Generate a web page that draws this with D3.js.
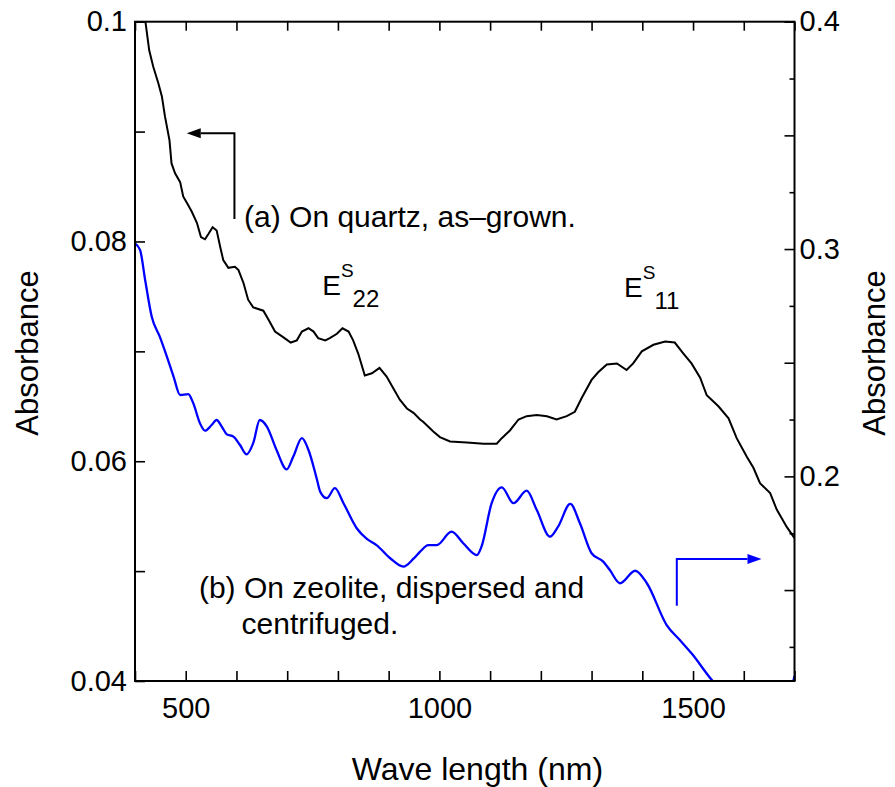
<!DOCTYPE html>
<html>
<head>
<meta charset="utf-8">
<script src="https://cdn.jsdelivr.net/npm/d3@7"></script>
<style>
  body { margin: 0; background: #fff; }
  svg text { font-family: "Liberation Sans", Arial, Helvetica, sans-serif; fill: #000; }
</style>
</head>
<body>
<div id="chart"></div>
<script>
// (a) on quartz, as-grown -- left axis
const wavelengthA = [410, 420, 428, 436, 446, 453, 459, 468, 472, 479, 489, 495, 505, 512, 522, 530, 538, 545, 553, 561,
    568, 574, 584, 597, 604, 614, 623, 633, 653, 663, 676, 692, 707, 719, 729, 742, 752, 761, 775, 784,
    798, 809, 821, 830, 840, 853, 867, 882, 896, 906, 922, 936, 949, 962, 968, 988, 1001, 1021, 1054, 1087,
    1113, 1123, 1139, 1156, 1172, 1192, 1212, 1231, 1251, 1267, 1281, 1300, 1313, 1330, 1350, 1369, 1382, 1399, 1422, 1445,
    1464, 1481, 1497, 1514, 1527, 1550, 1570, 1586, 1606, 1619, 1632, 1652, 1665, 1685, 1700];
const absorbanceA = [0.1040, 0.1002, 0.0974, 0.0959, 0.0944, 0.0932, 0.0914, 0.0892, 0.0871, 0.0862, 0.0854, 0.0841, 0.0833, 0.0827, 0.0817, 0.0804, 0.0802, 0.0807, 0.0813, 0.0810,
    0.0795, 0.0783, 0.0776, 0.0777, 0.0774, 0.0762, 0.0747, 0.0740, 0.0737, 0.0729, 0.0718, 0.0713, 0.0708, 0.0710, 0.0718, 0.0721, 0.0718, 0.0712, 0.0710, 0.0712,
    0.0716, 0.0721, 0.0718, 0.0710, 0.0698, 0.0678, 0.0680, 0.0685, 0.0677, 0.0669, 0.0656, 0.0648, 0.0644, 0.0638, 0.0636, 0.0627, 0.0622, 0.0618, 0.0617, 0.0616,
    0.0616, 0.0621, 0.0628, 0.0638, 0.0641, 0.0642, 0.0641, 0.0638, 0.0641, 0.0645, 0.0658, 0.0674, 0.0681, 0.0688, 0.0689, 0.0683, 0.0689, 0.0700, 0.0706, 0.0709,
    0.0708, 0.0698, 0.0689, 0.0676, 0.0660, 0.0650, 0.0639, 0.0621, 0.0604, 0.0594, 0.0580, 0.0571, 0.0556, 0.0540, 0.0530];

// (b) on zeolite, dispersed and centrifuged -- right axis
const wavelengthB = [400, 410, 420, 433, 449, 463, 476, 489, 505, 515, 528, 538, 551, 561, 571, 581, 594, 607, 620, 633,
    646, 660, 679, 699, 712, 729, 742, 758, 765, 778, 794, 811, 837, 857, 876, 903, 929, 949, 962, 978,
    995, 1024, 1047, 1074, 1083, 1103, 1123, 1146, 1172, 1192, 1218, 1234, 1258, 1277, 1300, 1323, 1336, 1356, 1386, 1409,
    1448, 1474, 1497, 1540, 1600, 1650, 1685, 1700];
const absorbanceB = [0.3025, 0.2996, 0.2864, 0.2702, 0.2614, 0.2526, 0.2439, 0.2358, 0.2362, 0.2321, 0.2234, 0.2201, 0.2226, 0.2248, 0.2219, 0.2185, 0.2175, 0.2138, 0.2097, 0.2146,
    0.2248, 0.2219, 0.2116, 0.2031, 0.2087, 0.2168, 0.2116, 0.1992, 0.1933, 0.1904, 0.1948, 0.1882, 0.1772, 0.1725, 0.1698, 0.1640, 0.1603, 0.1638, 0.1669, 0.1698,
    0.1698, 0.1757, 0.1706, 0.1654, 0.1691, 0.1882, 0.1952, 0.1882, 0.1937, 0.1852, 0.1735, 0.1779, 0.1879, 0.1794, 0.1662, 0.1625, 0.1588, 0.1530, 0.1585, 0.1530,
    0.1346, 0.1280, 0.1222, 0.1097, 0.0990, 0.0960, 0.1010, 0.1122];

// ticks and labels
const xTicks = [400, 500, 600, 700, 800, 900, 1000, 1100, 1200, 1300, 1400, 1500, 1600, 1700];
const xLabels = [500, 1000, 1500];
const leftTicks = [0.04, 0.05, 0.06, 0.07, 0.08, 0.09, 0.1];
const leftLabels = [0.04, 0.06, 0.08, 0.1];
const rightMajor = [0.15, 0.2, 0.25, 0.3, 0.35, 0.4];
const rightMinor = [0.125, 0.175, 0.225, 0.275, 0.325, 0.375];
const rightLabels = [0.2, 0.3, 0.4];

const width = 895, height = 787;
const margin = {top: 21.7, right: 100.5, bottom: 106, left: 135};
const innerW = width - margin.left - margin.right;
const innerH = height - margin.top - margin.bottom;

let svg = d3.select("#chart").append("svg")
    .attr("width", width)
    .attr("height", height);

let g = svg.append("g").attr("transform", `translate(${margin.left},${margin.top})`);

let x = d3.scaleLinear().domain([400, 1700]).range([0, innerW]);
let yL = d3.scaleLinear().domain([0.04, 0.1]).range([innerH, 0]);
let yR = d3.scaleLinear().domain([0.11, 0.4]).range([innerH, 0]);

g.append("clipPath").attr("id", "plotClip")
    .append("rect").attr("width", innerW).attr("height", innerH);

// curves
let lineA = d3.line().x(d => x(d[0])).y(d => yL(d[1]));
let lineB = d3.line().x(d => x(d[0])).y(d => yR(d[1])).curve(d3.curveMonotoneX);

g.append("path")
    .datum(d3.zip(wavelengthA, absorbanceA))
    .attr("clip-path", "url(#plotClip)")
    .attr("fill", "none")
    .attr("stroke", "#000")
    .attr("stroke-width", 2)
    .attr("d", lineA);

g.append("path")
    .datum(d3.zip(wavelengthB, absorbanceB))
    .attr("clip-path", "url(#plotClip)")
    .attr("fill", "none")
    .attr("stroke", "#0000ff")
    .attr("stroke-width", 2.3)
    .attr("d", lineB);

// axes (ticks point inward)
let fmt = d => String(d);

let bottomAxis = g.append("g")
    .attr("transform", `translate(0,${innerH})`)
    .call(d3.axisBottom(x).tickValues(xTicks).tickSize(-10).tickSizeOuter(0).tickPadding(16)
        .tickFormat(d => xLabels.includes(d) ? fmt(d) : ""));

let topAxis = g.append("g")
    .call(d3.axisTop(x).tickValues(xTicks).tickSize(-9).tickSizeOuter(0).tickFormat(""));

let leftAxis = g.append("g")
    .call(d3.axisLeft(yL).tickValues(leftTicks).tickSize(-10).tickSizeOuter(0).tickPadding(8)
        .tickFormat(d => leftLabels.includes(d) ? fmt(d) : ""));

let rightMinorAxis = g.append("g")
    .attr("transform", `translate(${innerW},0)`)
    .call(d3.axisRight(yR).tickValues(rightMinor).tickSize(-5).tickSizeOuter(0).tickFormat(""));

let rightAxis = g.append("g")
    .attr("transform", `translate(${innerW},0)`)
    .call(d3.axisRight(yR).tickValues(rightMajor).tickSize(-10).tickSizeOuter(0).tickPadding(5)
        .tickFormat(d => rightLabels.includes(d) ? fmt(d) : ""));

[bottomAxis, topAxis, leftAxis, rightMinorAxis, rightAxis].forEach(a => {
    a.select(".domain").remove();
    a.selectAll(".tick line").attr("stroke", "#000").attr("stroke-width", 1.6);
    a.selectAll(".tick text").attr("font-size", 29).attr("font-family", null);
});

// frame
g.append("rect")
    .attr("width", innerW).attr("height", innerH)
    .attr("fill", "none").attr("stroke", "#000").attr("stroke-width", 2);

// axis titles
svg.append("text")
    .attr("x", margin.left + x(1000) + 38).attr("y", 780)
    .attr("text-anchor", "middle").attr("font-size", 32)
    .text("Wave length (nm)");

svg.append("text")
    .attr("transform", "translate(38,353) rotate(-90)")
    .attr("text-anchor", "middle").attr("font-size", 31)
    .text("Absorbance");

svg.append("text")
    .attr("transform", "translate(885,353) rotate(-90)")
    .attr("text-anchor", "middle").attr("font-size", 31)
    .text("Absorbance");

// annotations
let note = g.append("g").attr("font-size", 30);

note.append("text").attr("x", x(615)).attr("y", yL(0.08132)).text("(a) On quartz, as\u2013grown.");
note.append("text").attr("x", x(526)).attr("y", yL(0.04755)).text("(b) On zeolite, dispersed and");
note.append("text").attr("x", x(610)).attr("y", yL(0.04428)).text("centrifuged.");

/** E label with a superscript S and a numeric subscript */
function peakLabel(nm, val, sub) {
    let t = g.append("text").attr("x", x(nm)).attr("y", yL(val)).attr("font-size", 28);
    t.append("tspan").text("E");
    t.append("tspan").attr("font-size", 19).attr("dy", -18).text("S");
    t.append("tspan").attr("font-size", 24).attr("dx", -1).attr("dy", 30).text(sub);
}
peakLabel(769, 0.07513, "22");
peakLabel(1364, 0.07497, "11");

/** bent arrow: vertical stem, horizontal run and a filled head */
function bentArrow(color, pts, dir) {
    let head = 14, half = 5;
    let tip = pts[pts.length - 1];
    let base = [tip[0] - dir * head, tip[1]];
    g.append("path")
        .attr("d", d3.line()([...pts.slice(0, -1), base]))
        .attr("fill", "none").attr("stroke", color).attr("stroke-width", 2);
    g.append("path")
        .attr("d", `M${tip[0]},${tip[1]}L${base[0]},${base[1] - half}L${base[0]},${base[1] + half}Z`)
        .attr("fill", color);
}
bentArrow("#000", [[x(596), yL(0.08204)], [x(596), yL(0.08984)], [x(502), yL(0.08984)]], -1);
bentArrow("#0000ff", [[x(1468), yR(0.14312)], [x(1468), yR(0.16366)], [x(1635), yR(0.16366)]], 1);
</script>
</body>
</html>
